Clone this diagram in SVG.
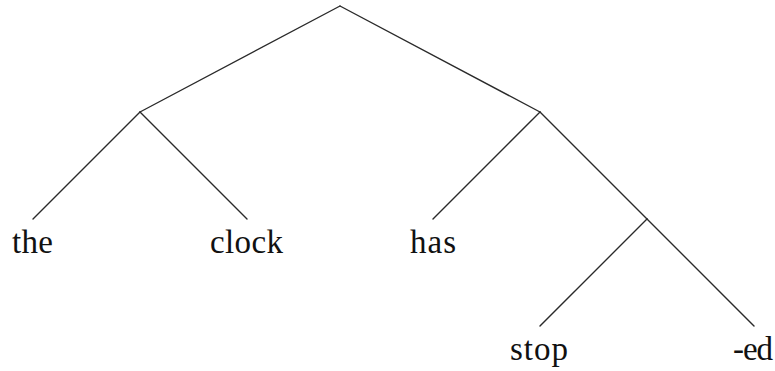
<svg xmlns="http://www.w3.org/2000/svg" width="775" height="371" viewBox="0 0 775 371">
<style>
.e{stroke:#2a2a2a;stroke-width:1.4;fill:none;stroke-linecap:round}
.t{font-family:"Liberation Serif",serif;font-size:33px;fill:#111}
</style>
<rect width="775" height="371" fill="#fff"/>
<g id="connectors">
<line class="e" x1="340" y1="6" x2="140" y2="112"/>
<line class="e" x1="340" y1="6" x2="540" y2="112"/>
<line class="e" x1="140" y1="112" x2="33" y2="219"/>
<line class="e" x1="140" y1="112" x2="247" y2="219"/>
<line class="e" x1="540" y1="112" x2="433" y2="219"/>
<line class="e" x1="540" y1="112" x2="647" y2="219"/>
<line class="e" x1="647" y1="219" x2="540" y2="326"/>
<line class="e" x1="647" y1="219" x2="754" y2="326"/>
</g>
<g id="the"><text class="t" x="12" y="253" textLength="41" lengthAdjust="spacing">the</text></g>
<g id="clock"><text class="t" x="210" y="253" textLength="73" lengthAdjust="spacing">clock</text></g>
<g id="has"><text class="t" x="410" y="253" textLength="46" lengthAdjust="spacing">has</text></g>
<g id="stop"><text class="t" x="510" y="360" textLength="58" lengthAdjust="spacing">stop</text></g>
<g id="ed"><text class="t" x="733" y="360" textLength="40" lengthAdjust="spacing">-ed</text></g>
</svg>
